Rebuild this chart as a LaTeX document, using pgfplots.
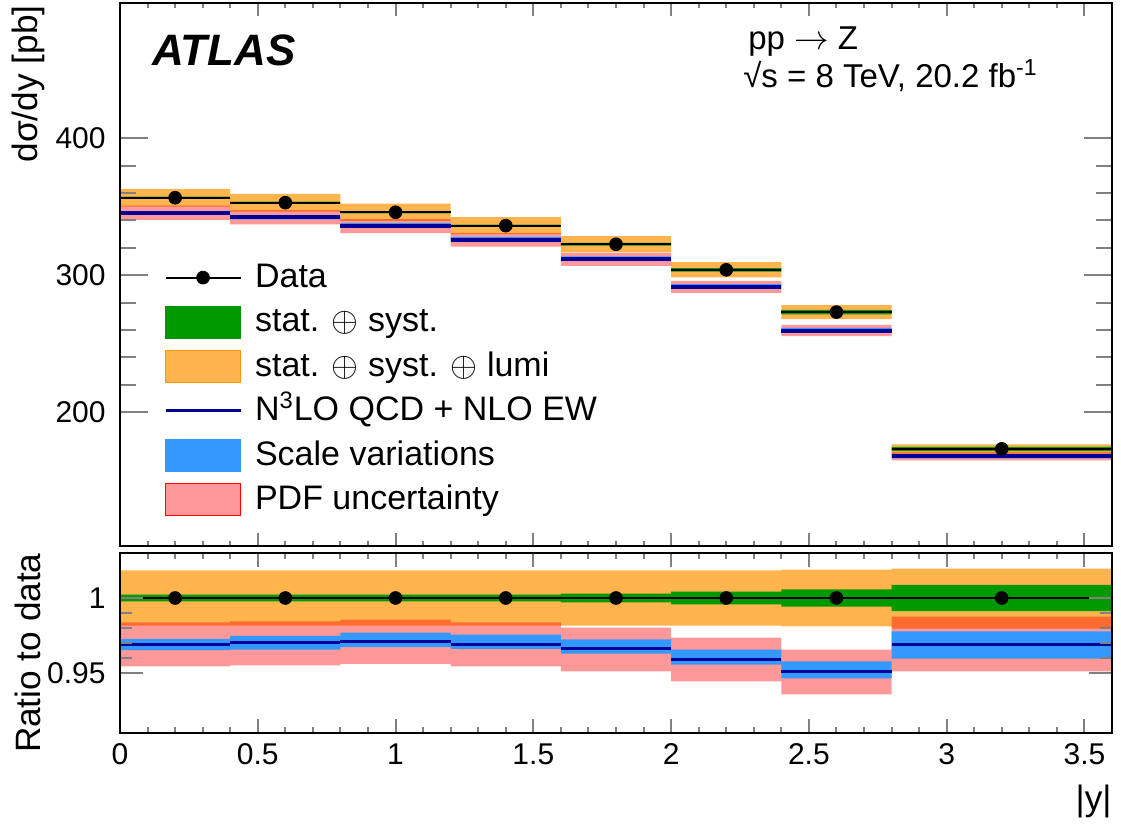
\documentclass[border=0pt]{standalone}
\usepackage{fontspec}
\setmainfont{Liberation Sans}
\usepackage{pgfplots}
\pgfplotsset{compat=1.18}
\usepackage{pgfplotstable}

\definecolor{orangeband}{RGB}{255,180,77}
\definecolor{orangeedge}{RGB}{255,150,0}
\definecolor{greenband}{RGB}{0,153,0}
\definecolor{navyline}{RGB}{0,0,153}
\definecolor{blueband}{RGB}{51,153,255}

% theory (t) and data (d) per bin: bin lower edge; last row repeats the last bin at x=3.6
\pgfplotstableread{
x    d       t
0.0  356.6   345.65
0.4  353.0   342.41
0.8  346.0   335.93
1.2  336.2   325.88
1.6  322.6   311.63
2.0  303.9   291.44
2.4  273.0   259.54
2.8  173.0   167.64
3.6  173.0   167.64
}\toplines

\pgfplotstableread{
x    d
0.2  356.6
0.6  353.0
1.0  346.0
1.4  336.2
1.8  322.6
2.2  303.9
2.6  273.0
3.2  173.0
}\toppoints

\pgfplotstableread{
x    d   t
0.0  1   0.9693
0.4  1   0.9700
0.8  1   0.9709
1.2  1   0.9693
1.6  1   0.9660
2.0  1   0.9590
2.4  1   0.9507
2.8  1   0.9690
3.6  1   0.9690
}\ratiolines

\pgfplotstableread{
x    r
0.2  1
0.6  1
1.0  1
1.4  1
1.8  1
2.2  1
2.6  1
3.2  1
}\ratiopoints

\pgfplotsset{
  atlasaxis/.style={
    scale only axis, width=496pt,
    xmin=0, xmax=3.6,
    xtick={0,0.5,1,1.5,2,2.5,3,3.5}, minor x tick num=4,
    tick align=inside, tick pos=both,
    axis on top,
    axis line style={line width=1pt},
    unbounded coords=jump,
    /pgf/number format/assume math mode=true,
    ticklabel style={font=\fontsize{15}{18}\selectfont},
    label style={font=\fontsize{17.6}{21}\selectfont},
    yticklabel style={inner sep=0pt, xshift=-7pt},
    xticklabel style={inner sep=0pt, yshift=-5pt},
  },
  band/.style={draw=none, forget plot, mark=none},
}

\begin{document}
\begin{tikzpicture}

% ---------------- top panel ----------------
\begin{axis}[atlasaxis,
  at={(0,0)}, anchor=south west, height=271.5pt,
  ymin=102, ymax=499,
  ytick={200,300,400}, minor y tick num=4,
  xticklabels={},
  xtick style={line width=1pt, /pgfplots/major tick length=6.5pt, /pgfplots/minor tick length=2.5pt},
  ytick style={line width=1pt, /pgfplots/major tick length=14pt, /pgfplots/minor tick length=8pt},
  ylabel={dσ/dy [pb]},
  ylabel style={at={(axis description cs:-0.0927,0.996)}, anchor=east, inner sep=0pt},
  legend style={at={(axis description cs:0.044,0.53)}, anchor=north west,
    draw=none, fill=none, inner sep=0pt, row sep=3.2pt,
    font=\fontsize{17}{20}\selectfont,
    nodes={inner xsep=0pt, text height=12.5pt, text depth=2.5pt},
    /tikz/every odd column/.append style={column sep=6.5pt}},
  legend cell align=left,
]
% data stat+syst+lumi (orange)
\addplot[band, fill=orangeband] coordinates {
 (0,350.04) (0.4,350.04) (0.4,363.16) (0,363.16) (0,nan)
 (0.4,346.50) (0.8,346.50) (0.8,359.50) (0.4,359.50) (0.4,nan)
 (0.8,339.63) (1.2,339.63) (1.2,352.37) (0.8,352.37) (0.8,nan)
 (1.2,330.01) (1.6,330.01) (1.6,342.39) (1.2,342.39) (1.2,nan)
 (1.6,316.66) (2.0,316.66) (2.0,328.54) (1.6,328.54) (1.6,nan)
 (2.0,298.31) (2.4,298.31) (2.4,309.49) (2.0,309.49) (2.0,nan)
 (2.4,267.81) (2.8,267.81) (2.8,278.16) (2.4,278.16) (2.4,nan)
 (2.8,169.45) (3.6,169.45) (3.6,176.37) (2.8,176.37)};
% data stat+syst (green)
\addplot[band, fill=greenband] coordinates {
 (0,355.78) (0.4,355.78) (0.4,357.42) (0,357.42) (0,nan)
 (0.4,352.19) (0.8,352.19) (0.8,353.81) (0.4,353.81) (0.4,nan)
 (0.8,345.20) (1.2,345.20) (1.2,346.80) (0.8,346.80) (0.8,nan)
 (1.2,335.43) (1.6,335.43) (1.6,336.97) (1.2,336.97) (1.2,nan)
 (1.6,321.66) (2.0,321.66) (2.0,323.54) (1.6,323.54) (1.6,nan)
 (2.0,302.59) (2.4,302.59) (2.4,305.21) (2.0,305.21) (2.0,nan)
 (2.4,271.42) (2.8,271.42) (2.8,274.58) (2.4,274.58) (2.4,nan)
 (2.8,171.48) (3.6,171.48) (3.6,174.52) (2.8,174.52)};
% PDF (pink, transparent)
\addplot[band, fill=red, fill opacity=0.4] coordinates {
 (0,340.34) (0.4,340.34) (0.4,350.82) (0,350.82) (0,nan)
 (0.4,337.12) (0.8,337.12) (0.8,347.49) (0.4,347.49) (0.4,nan)
 (0.8,330.78) (1.2,330.78) (1.2,341.02) (0.8,341.02) (0.8,nan)
 (1.2,320.87) (1.6,320.87) (1.6,330.75) (1.2,330.75) (1.2,nan)
 (1.6,306.79) (2.0,306.79) (2.0,316.21) (1.6,316.21) (1.6,nan)
 (2.0,287.00) (2.4,287.00) (2.4,295.88) (2.0,295.88) (2.0,nan)
 (2.4,255.47) (2.8,255.47) (2.8,263.61) (2.4,263.61) (2.4,nan)
 (2.8,164.52) (3.6,164.52) (3.6,170.85) (2.8,170.85)};
% scale (blue)
\addplot[band, fill=blueband] coordinates {
 (0,344.23) (0.4,344.23) (0.4,346.87) (0,346.87) (0,nan)
 (0.4,340.86) (0.8,340.86) (0.8,344.07) (0.4,344.07) (0.4,nan)
 (0.8,334.69) (1.2,334.69) (1.2,338.01) (0.8,338.01) (0.8,nan)
 (1.2,324.77) (1.6,324.77) (1.6,327.99) (1.2,327.99) (1.2,nan)
 (1.6,310.63) (2.0,310.63) (2.0,313.70) (1.6,313.70) (1.6,nan)
 (2.0,290.41) (2.4,290.41) (2.4,293.45) (2.0,293.45) (2.0,nan)
 (2.4,258.37) (2.8,258.37) (2.8,261.48) (2.4,261.48) (2.4,nan)
 (2.8,166.01) (3.6,166.01) (3.6,169.16) (2.8,169.16)};
% theory line
\addplot[jump mark left, navyline, line width=2pt, forget plot] table[x=x, y=t] {\toplines};
% data line and points
\addplot[jump mark left, black, line width=0.9pt, forget plot] table[x=x, y=d] {\toplines};
\addplot[only marks, mark=*, mark size=3.2pt, black, forget plot] table[x=x, y=d] {\toppoints};

% legend
\addlegendimage{legend image code/.code={\draw[black, line width=0.9pt] (0pt,0pt) -- (37.5pt,0pt); \fill[black] (18.75pt,0pt) circle (3.2pt);}}
\addlegendentry{Data}
\addlegendimage{legend image code/.code={\draw[fill=greenband, draw=greenband] (0pt,-8pt) rectangle (37.5pt,8pt);}}
\addlegendentry{stat. $\oplus$ syst.}
\addlegendimage{legend image code/.code={\draw[fill=orangeband, draw=orangeedge] (0pt,-8pt) rectangle (37.5pt,8pt);}}
\addlegendentry{stat. $\oplus$ syst. $\oplus$ lumi}
\addlegendimage{legend image code/.code={\draw[navyline, line width=1.5pt] (0pt,0pt) -- (37.5pt,0pt);}}
\addlegendentry{N\textsuperscript{3}LO QCD + NLO EW}
\addlegendimage{legend image code/.code={\draw[fill=blueband, draw=blueband] (0pt,-8pt) rectangle (37.5pt,8pt);}}
\addlegendentry{Scale variations}
\addlegendimage{legend image code/.code={\draw[fill=red!40, draw=red] (0pt,-8pt) rectangle (37.5pt,8pt);}}
\addlegendentry{PDF uncertainty}

\node[anchor=base west, inner sep=0pt, font=\fontsize{22}{26}\selectfont\bfseries\itshape]
  at (axis description cs:0.032,0.885) {ATLAS};
\node[anchor=base west, inner sep=0pt, font=\fontsize{16.5}{19}\selectfont]
  at (axis description cs:0.633,0.915) {pp $\rightarrow$ Z};
\node[anchor=base west, inner sep=0pt, font=\fontsize{16.5}{19}\selectfont]
  at (axis description cs:0.628,0.8435) {√s = 8 TeV, 20.2 fb\textsuperscript{-1}};
\end{axis}

% ---------------- ratio panel ----------------
\begin{axis}[atlasaxis,
  at={(0,-3.5pt)}, anchor=north west, height=90pt,
  ymin=0.91, ymax=1.03,
  ytick={0.95,1}, minor y tick num=4,
  yticklabels={0.95,1},
  xticklabels={0,0.5,1,1.5,2,2.5,3,3.5},
  xtick style={line width=1pt, /pgfplots/major tick length=7pt, /pgfplots/minor tick length=3pt},
  ytick style={line width=1pt, /pgfplots/major tick length=11.5pt, /pgfplots/minor tick length=6pt},
  ylabel={Ratio to data},
  ylabel style={at={(axis description cs:-0.0927,1)}, anchor=east, inner sep=0pt},
  xlabel={|y|},
  xlabel style={at={(axis description cs:1,0)}, anchor=north east, inner sep=0pt, yshift=-26pt},
]
\addplot[band, fill=orangeband] coordinates {
 (0,0.9816) (0.4,0.9816) (0.4,1.0184) (0,1.0184) (0,nan)
 (0.4,0.9816) (0.8,0.9816) (0.8,1.0184) (0.4,1.0184) (0.4,nan)
 (0.8,0.9816) (1.2,0.9816) (1.2,1.0184) (0.8,1.0184) (0.8,nan)
 (1.2,0.9816) (1.6,0.9816) (1.6,1.0184) (1.2,1.0184) (1.2,nan)
 (1.6,0.9816) (2.0,0.9816) (2.0,1.0184) (1.6,1.0184) (1.6,nan)
 (2.0,0.9816) (2.4,0.9816) (2.4,1.0184) (2.0,1.0184) (2.0,nan)
 (2.4,0.9810) (2.8,0.9810) (2.8,1.0189) (2.4,1.0189) (2.4,nan)
 (2.8,0.9795) (3.6,0.9795) (3.6,1.0195) (2.8,1.0195)};
\addplot[band, fill=greenband] coordinates {
 (0,0.9977) (0.4,0.9977) (0.4,1.0023) (0,1.0023) (0,nan)
 (0.4,0.9977) (0.8,0.9977) (0.8,1.0023) (0.4,1.0023) (0.4,nan)
 (0.8,0.9977) (1.2,0.9977) (1.2,1.0023) (0.8,1.0023) (0.8,nan)
 (1.2,0.9977) (1.6,0.9977) (1.6,1.0023) (1.2,1.0023) (1.2,nan)
 (1.6,0.9971) (2.0,0.9971) (2.0,1.0029) (1.6,1.0029) (1.6,nan)
 (2.0,0.9957) (2.4,0.9957) (2.4,1.0043) (2.0,1.0043) (2.0,nan)
 (2.4,0.9942) (2.8,0.9942) (2.8,1.0058) (2.4,1.0058) (2.4,nan)
 (2.8,0.9912) (3.6,0.9912) (3.6,1.0088) (2.8,1.0088)};
\addplot[band, fill=red, fill opacity=0.4] coordinates {
 (0,0.9544) (0.4,0.9544) (0.4,0.9838) (0,0.9838) (0,nan)
 (0.4,0.9550) (0.8,0.9550) (0.8,0.9844) (0.4,0.9844) (0.4,nan)
 (0.8,0.9560) (1.2,0.9560) (1.2,0.9856) (0.8,0.9856) (0.8,nan)
 (1.2,0.9544) (1.6,0.9544) (1.6,0.9838) (1.2,0.9838) (1.2,nan)
 (1.6,0.9510) (2.0,0.9510) (2.0,0.9802) (1.6,0.9802) (1.6,nan)
 (2.0,0.9444) (2.4,0.9444) (2.4,0.9736) (2.0,0.9736) (2.0,nan)
 (2.4,0.9358) (2.8,0.9358) (2.8,0.9656) (2.4,0.9656) (2.4,nan)
 (2.8,0.9510) (3.6,0.9510) (3.6,0.9876) (2.8,0.9876)};
\addplot[band, fill=blueband] coordinates {
 (0,0.9653) (0.4,0.9653) (0.4,0.9727) (0,0.9727) (0,nan)
 (0.4,0.9656) (0.8,0.9656) (0.8,0.9747) (0.4,0.9747) (0.4,nan)
 (0.8,0.9673) (1.2,0.9673) (1.2,0.9769) (0.8,0.9769) (0.8,nan)
 (1.2,0.9660) (1.6,0.9660) (1.6,0.9756) (1.2,0.9756) (1.2,nan)
 (1.6,0.9629) (2.0,0.9629) (2.0,0.9724) (1.6,0.9724) (1.6,nan)
 (2.0,0.9556) (2.4,0.9556) (2.4,0.9656) (2.0,0.9656) (2.0,nan)
 (2.4,0.9464) (2.8,0.9464) (2.8,0.9578) (2.4,0.9578) (2.4,nan)
 (2.8,0.9596) (3.6,0.9596) (3.6,0.9778) (2.8,0.9778)};
\addplot[jump mark left, navyline, line width=1.5pt, forget plot] table[x=x, y=t] {\ratiolines};
\addplot[jump mark left, black, line width=0.9pt, forget plot] table[x=x, y=d] {\ratiolines};
\addplot[only marks, mark=*, mark size=3.2pt, black, forget plot] table[x=x, y=r] {\ratiopoints};
\end{axis}

\path (-60pt,-141pt) rectangle (500.5pt,273pt);
\end{tikzpicture}
\end{document}
